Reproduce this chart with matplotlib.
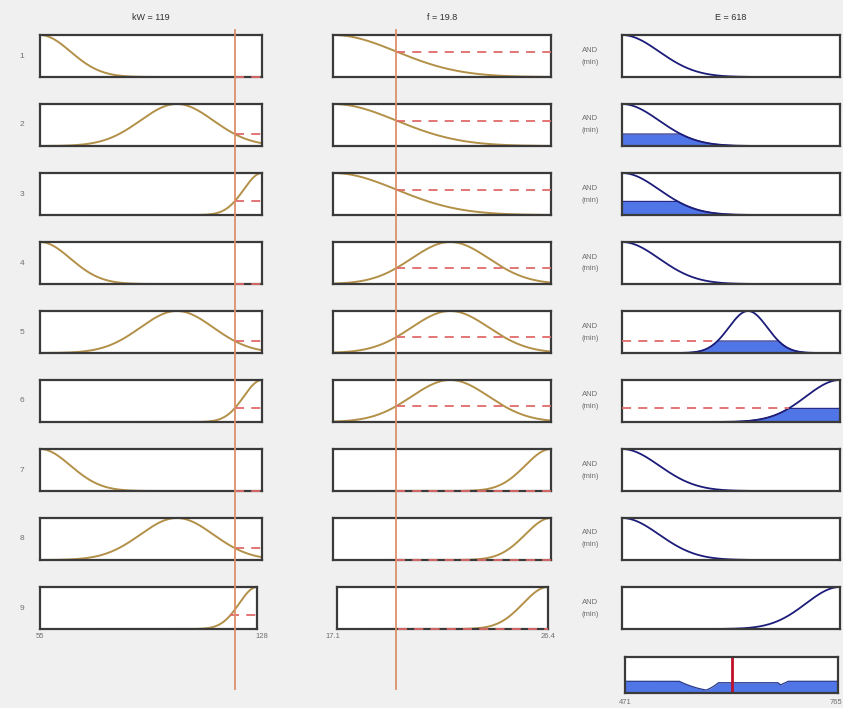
import numpy as np
import matplotlib
matplotlib.use("Agg")
import matplotlib.pyplot as plt
from matplotlib.lines import Line2D

plt.rcParams['font.family'] = ['Liberation Sans', 'DejaVu Sans']

# ---- fuzzy system description ----
kw_range = (55, 128)
f_range = (17.1, 26.4)
e_range = (471, 765)
kw_input = 119
f_input = 19.8
e_output = 618

# gaussian membership functions: (center, sigma)
kw_mfs = {'low': (55, 10), 'med': (100, 12), 'high': (128, 6)}
f_mfs = {'low': (17.1, 2.7), 'med': (22.1, 1.65), 'high': (26.4, 1.1)}
e_mfs = {'low': (471, 50), 'med': (641, 26), 'high': (765, 46)}

# rule base: (kW term, f term, E term)
rule_kw = ['low', 'med', 'high', 'low', 'med', 'high', 'low', 'med', 'high']
rule_f = ['low', 'low', 'low', 'med', 'med', 'med', 'high', 'high', 'high']
rule_e = ['low', 'low', 'low', 'low', 'med', 'high', 'low', 'low', 'high']


def gauss(x, c, s):
    return np.exp(-(x - c) ** 2 / (2 * s ** 2))


W, H = 843, 708
fig = plt.figure(figsize=(W / 100, H / 100), dpi=100, facecolor='#f0f0f0')


def px_axes(x0, y0, x1, y1):
    ax = fig.add_axes([x0 / W, 1 - y1 / H, (x1 - x0) / W, (y1 - y0) / H])
    ax.set_facecolor('white')
    ax.set_xticks([])
    ax.set_yticks([])
    for sp in ax.spines.values():
        sp.set_color('#3a3a3a')
        sp.set_linewidth(1.6)
    ax.set_ylim(0, 1.0)
    return ax


in_color = '#b39048'
dash_color = '#e06a6a'
out_line = '#1c1c7a'
fill_color = '#4f75e6'
vline_color = '#dc916a'
label_color = '#707070'

row_top0 = 35
row_step = 69
row_h = 42

col1 = [(40, 262)] * 8 + [(40, 257)]
col2 = [(333, 551)] * 8 + [(337, 548)]
col3 = (622, 840)

kx = np.linspace(*kw_range, 400)
fx = np.linspace(*f_range, 400)
ex = np.linspace(*e_range, 600)

aggregate = np.zeros_like(ex)

for i in range(9):
    y0 = row_top0 + row_step * i
    y1 = y0 + row_h
    yc = (y0 + y1) / 2

    # kW input
    ax = px_axes(col1[i][0], y0, col1[i][1], y1)
    ax.set_xlim(*kw_range)
    c, s = kw_mfs[rule_kw[i]]
    ax.plot(kx, gauss(kx, c, s), color=in_color, lw=1.4, clip_on=False)
    mu_kw = gauss(kw_input, c, s)
    ax.plot([kw_input, kw_range[1]], [mu_kw, mu_kw], color=dash_color,
            lw=1.3, ls=(0, (5, 4)), clip_on=False, zorder=5)

    # f input
    ax = px_axes(col2[i][0], y0, col2[i][1], y1)
    ax.set_xlim(*f_range)
    c, s = f_mfs[rule_f[i]]
    ax.plot(fx, gauss(fx, c, s), color=in_color, lw=1.4, clip_on=False)
    mu_f = gauss(f_input, c, s)
    ax.plot([f_input, f_range[1]], [mu_f, mu_f], color=dash_color,
            lw=1.3, ls=(0, (5, 4)), clip_on=False, zorder=5)

    # rule output (AND = min)
    w = min(mu_kw, mu_f)
    ax = px_axes(col3[0], y0, col3[1], y1)
    ax.set_xlim(*e_range)
    c, s = e_mfs[rule_e[i]]
    mf = gauss(ex, c, s)
    clipped = np.minimum(mf, w)
    aggregate = np.maximum(aggregate, clipped)
    if w > 0.01:
        ax.fill_between(ex, 0, clipped, color=fill_color, lw=0)
        ax.plot(ex, clipped, color=out_line, lw=0.8)
        above = np.nonzero(mf >= w)[0]
        if len(above) and above[0] > 0:
            ax.plot([e_range[0], ex[above[0]]], [w, w], color=dash_color,
                    lw=1.3, ls=(0, (5, 4)), zorder=5)
    ax.plot(ex, mf, color=out_line, lw=1.3, clip_on=False)

    fig.text(22 / W, 1 - yc / H, str(i + 1), ha='center', va='center',
             fontsize=6, color=label_color)
    fig.text(590 / W, 1 - (yc - 6) / H, 'AND', ha='center', va='center',
             fontsize=5.5, color=label_color)
    fig.text(590 / W, 1 - (yc + 6) / H, '(min)', ha='center', va='center',
             fontsize=5.5, color=label_color)

# aggregated output
ax = px_axes(625, 657, 838, 693)
ax.set_xlim(*e_range)
ax.set_ylim(0, 1.0)
ax.fill_between(ex, 0, aggregate, color=fill_color, lw=0)
ax.plot(ex, aggregate, color='#2a3a8a', lw=0.9)
ax.axvline(e_output, color='#c0102a', lw=2)

# input value markers spanning the rule rows
for xpix in (40 + (kw_input - kw_range[0]) / (kw_range[1] - kw_range[0]) * 222,
             333 + (f_input - f_range[0]) / (f_range[1] - f_range[0]) * 218):
    fig.add_artist(Line2D([xpix / W, xpix / W], [1 - 30 / H, 1 - 689 / H],
                          transform=fig.transFigure, color=vline_color,
                          lw=1.3, zorder=10))

# titles
fig.text(151 / W, 1 - 18 / H, f'kW = {kw_input}', ha='center', va='center',
         fontsize=6.5, color='#303030')
fig.text(442 / W, 1 - 18 / H, f'f = {f_input}', ha='center', va='center',
         fontsize=6.5, color='#303030')
fig.text(731 / W, 1 - 18 / H, f'E = {e_output}', ha='center', va='center',
         fontsize=6.5, color='#303030')

# range labels
fig.text(40 / W, 1 - 637 / H, f'{kw_range[0]}', ha='center', va='center',
         fontsize=5.5, color=label_color)
fig.text(262 / W, 1 - 637 / H, f'{kw_range[1]}', ha='center', va='center',
         fontsize=5.5, color=label_color)
fig.text(333 / W, 1 - 637 / H, f'{f_range[0]}', ha='center', va='center',
         fontsize=5.5, color=label_color)
fig.text(548 / W, 1 - 637 / H, f'{f_range[1]}', ha='center', va='center',
         fontsize=5.5, color=label_color)
fig.text(625 / W, 1 - 702 / H, f'{e_range[0]}', ha='center', va='center',
         fontsize=5.5, color=label_color)
fig.text(842 / W, 1 - 702 / H, f'{e_range[1]}', ha='right', va='center',
         fontsize=5.5, color=label_color)

fig.savefig('out.png', dpi=100, facecolor=fig.get_facecolor())
